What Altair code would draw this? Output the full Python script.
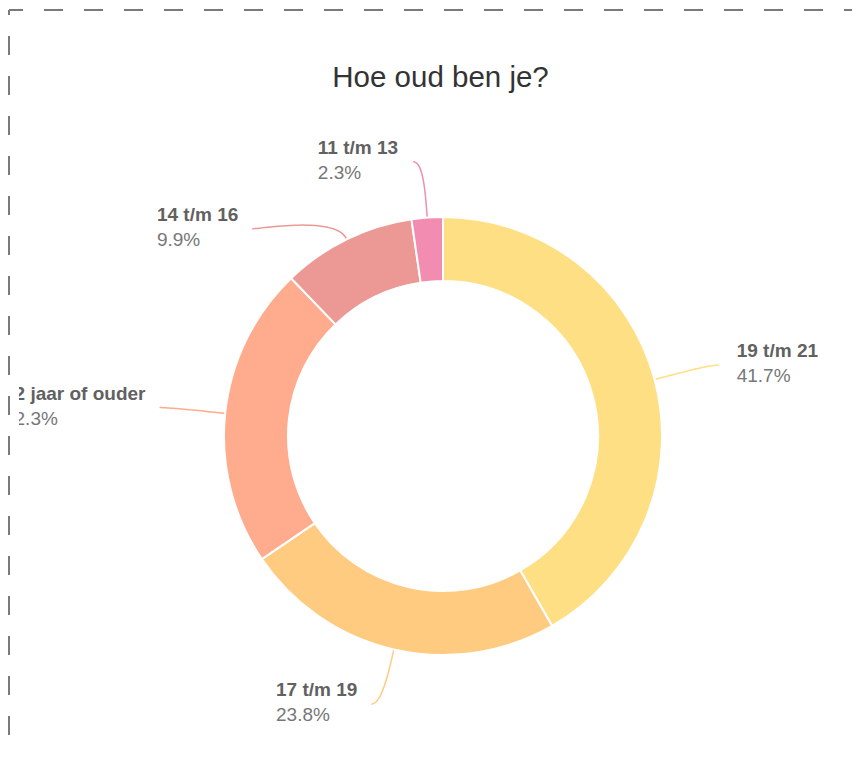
import math
import altair as alt
import pandas as pd

# ---- data ----
categories = ["19 t/m 21", "17 t/m 19", "22 jaar of ouder", "14 t/m 16", "11 t/m 13"]
percents = [41.7, 23.8, 22.3, 9.9, 2.3]
colors = ["#FFDF84", "#FFCB80", "#FFAB8E", "#EC9996", "#F28DB1"]
title_text = "Hoe oud ben je?"

# ---- layout (view coordinates, px) ----
PAD_L = 11
W, H = 844 - PAD_L, 745
OX = 8 + PAD_L            # page x of the view origin
CX, CY = 443 - OX, 428
R_OUT, R_IN = 219, 155
R_EDGE, R_CTRL, R_END = 220, 245, 275
H_EXT = 10
MIN_GAP = 67
FONT = "Liberation Sans"
LABEL_SIZE = 19
GAP_R, GAP_L = 18, 14

# Arial/Liberation Sans Bold advance widths (per 1000 em) for measuring labels
BOLD_W = {" ": 278, "/": 278, "0": 556, "1": 556, "2": 556, "3": 556, "4": 556, "5": 556,
          "6": 556, "7": 556, "8": 556, "9": 556, "a": 556, "d": 611, "e": 556, "f": 333,
          "j": 278, "m": 889, "o": 611, "r": 389, "t": 333, "u": 611}


def text_width(s, size):
    return sum(BOLD_W.get(ch, 556) for ch in s) / 1000 * size


# slice geometry derived from the data
total = sum(percents)
cum = 0.0
info = []
for i, (c, p) in enumerate(zip(categories, percents)):
    mid = (cum + p / 2) / total * 2 * math.pi
    cum += p
    s, co = math.sin(mid), math.cos(mid)
    info.append({
        "cat": c, "pct": p, "idx": i, "mid": mid,
        "ex": CX + R_EDGE * s, "ey": CY - R_EDGE * co,
        "cx": CX + R_CTRL * s, "cy": CY - R_CTRL * co,
        "ky": CY - R_END * co,
        "side": "right" if s >= 0 else "left",
    })

# simple collision avoidance per side
for side in ("left", "right"):
    items = sorted([d for d in info if d["side"] == side], key=lambda d: d["ky"])
    for a, b in zip(items, items[1:]):
        if b["ky"] - a["ky"] < MIN_GAP:
            b["ky"] = a["ky"] + MIN_GAP
for d in info:
    dy = d["ky"] - CY
    dx = math.sqrt(max(R_END ** 2 - dy ** 2, 0))
    sign = 1 if d["side"] == "right" else -1
    d["kx"] = CX + sign * dx
    d["tx"] = d["kx"] + sign * H_EXT
    d["ty"] = d["ky"]

# leader lines: cubic bezier edge -> radial control -> knee -> short horizontal end
line_rows = []
for d in info:
    pts = [(d["ex"], d["ey"]), (d["cx"], d["cy"]), (d["kx"], d["ky"]), (d["tx"], d["ty"])]
    for k in range(31):
        t = k / 30
        b = [(1 - t) ** 3, 3 * (1 - t) ** 2 * t, 3 * (1 - t) * t ** 2, t ** 3]
        x = sum(bi * p[0] for bi, p in zip(b, pts))
        y = sum(bi * p[1] for bi, p in zip(b, pts))
        line_rows.append({"cat": d["cat"], "t": k, "px": x, "py": y})
lines_df = pd.DataFrame(line_rows)

label_rows = []
for d in info:
    if d["side"] == "right":
        lx = d["tx"] + GAP_R
    else:
        lx = d["tx"] - GAP_L - text_width(d["cat"], LABEL_SIZE)
    label_rows.append({
        "cat": d["cat"], "lx": lx, "ny": d["ty"] - 14, "py": d["ty"] + 11,
        "ptxt": f"{d['pct']:.1f}%",
    })
labels_df = pd.DataFrame(label_rows)

slices_df = pd.DataFrame({"cat": categories, "pct": percents, "idx": list(range(len(categories)))})
one = pd.DataFrame({"a": [0]})

color_scale = alt.Scale(domain=categories, range=colors)

border_top = alt.Chart(one).mark_rule(
    stroke="#7a7a7a", strokeWidth=2, strokeDash=[19, 21], strokeDashOffset=5
).encode(x=alt.value(9 - OX), x2=alt.value(W), y=alt.value(2))

border_left = alt.Chart(one).mark_rule(
    stroke="#7a7a7a", strokeWidth=2, strokeDash=[19, 21], strokeDashOffset=14
).encode(x=alt.value(9 - OX), y=alt.value(2), y2=alt.value(H))

title = alt.Chart(one).mark_text(
    text=title_text, font=FONT, fontSize=29.5, color="#333333", align="center", baseline="middle"
).encode(x=alt.value(440.5 - OX), y=alt.value(70))

arcs = alt.Chart(slices_df).mark_arc(
    innerRadius=R_IN, outerRadius=R_OUT, stroke="white", strokeWidth=2
).encode(
    theta=alt.Theta("pct:Q", stack=True),
    order=alt.Order("idx:Q"),
    color=alt.Color("cat:N", scale=color_scale, legend=None),
    x=alt.value(CX), y=alt.value(CY),
)

leaders = alt.Chart(lines_df).mark_line(strokeWidth=1.5, interpolate="linear").encode(
    x=alt.X("px:Q", scale=None, axis=None),
    y=alt.Y("py:Q", scale=None, axis=None),
    detail="cat:N",
    order="t:Q",
    color=alt.Color("cat:N", scale=color_scale, legend=None),
)

names = alt.Chart(labels_df).mark_text(
    font=FONT, fontSize=LABEL_SIZE, fontWeight="bold", color="#616161",
    align="left", baseline="middle", clip=True
).encode(x=alt.X("lx:Q", scale=None, axis=None), y=alt.Y("ny:Q", scale=None, axis=None), text="cat:N")

pcts = alt.Chart(labels_df).mark_text(
    font=FONT, fontSize=LABEL_SIZE, color="#777777",
    align="left", baseline="middle", clip=True
).encode(x=alt.X("lx:Q", scale=None, axis=None), y=alt.Y("py:Q", scale=None, axis=None), text="ptxt:N")

chart = alt.layer(border_top, border_left, title, arcs, leaders, names, pcts).properties(
    width=W, height=H,
    padding={"left": PAD_L, "top": 0, "right": 0, "bottom": 0},
    autosize=alt.AutoSizeParams(type="none"),
).configure_view(stroke=None)

chart.save("out.html", embed_options={"renderer": "svg", "actions": False})
